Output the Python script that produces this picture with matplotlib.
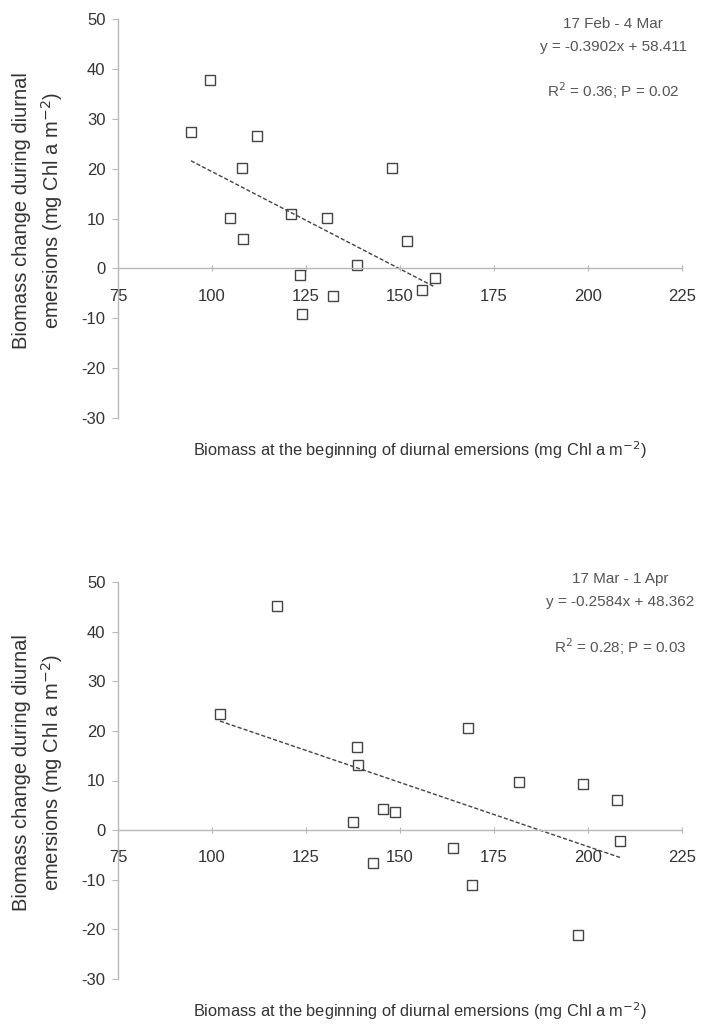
import matplotlib
matplotlib.use("Agg")
import matplotlib.pyplot as plt
import numpy as np

plt.rcParams['font.family'] = ['Liberation Sans', 'DejaVu Sans']
plt.rcParams['axes.unicode_minus'] = False

# Panel 1: 17 Feb - 4 Mar
x1 = [94.4, 99.5, 112.0, 108.0, 104.8, 108.2, 121.0, 130.6, 123.4, 132.2, 123.9,
      147.9, 151.9, 138.6, 159.3, 155.9]
y1 = [27.3, 37.7, 26.5, 20.1, 10.2, 5.8, 11.0, 10.2, -1.4, -5.6, -9.1,
      20.1, 5.4, 0.6, -2.0, -4.3]
slope1, intercept1 = -0.3902, 58.411
title1 = "17 Feb - 4 Mar"
eq1 = "y = -0.3902x + 58.411"
stat1 = "R$^2$ = 0.36; P = 0.02"

# Panel 2: 17 Mar - 1 Apr
x2 = [117.3, 102.1, 138.6, 138.8, 137.6, 148.7, 145.5, 168.1, 181.6, 198.7,
      207.7, 208.5, 164.1, 142.8, 169.1, 197.3]
y2 = [45.2, 23.4, 16.7, 13.1, 1.6, 3.6, 4.3, 20.6, 9.7, 9.3,
      6.0, -2.2, -3.6, -6.7, -11.1, -21.2]
slope2, intercept2 = -0.2584, 48.362
title2 = "17 Mar - 1 Apr"
eq2 = "y = -0.2584x + 48.362"
stat2 = "R$^2$ = 0.28; P = 0.03"

xticks = [75, 100, 125, 150, 175, 200, 225]
yticks = [-30, -20, -10, 0, 10, 20, 30, 40, 50]

ylabel = "Biomass change during diurnal\nemersions (mg Chl a m$^{-2}$)"
xlabel = "Biomass at the beginning of diurnal emersions (mg Chl a m$^{-2}$)"

fig = plt.figure(figsize=(7.03, 10.31), dpi=100)

axes_rects = [[118/703, 1-418/1031, 564/703, 399/1031],
              [118/703, 1-979/1031, 564/703, 397/1031]]
panels = [(x1, y1, slope1, intercept1, title1, eq1, stat1, (0.878, 0.987, 0.930, 0.820)),
          (x2, y2, slope2, intercept2, title2, eq2, stat2, (0.89, 1.008, 0.950, 0.836))]

axis_col = '#b8b8b8'
txt_col = '#333333'
ann_col = '#555555'
for rect, (xs, ys, sl, ic, tt, eq, st, pos) in zip(axes_rects, panels):
    ax = fig.add_axes(rect)
    ax.set_xlim(75, 225)
    ax.set_ylim(-30, 50)
    ax.spines['top'].set_visible(False)
    ax.spines['right'].set_visible(False)
    ax.spines['bottom'].set_position(('data', 0))
    for s in ('left', 'bottom'):
        ax.spines[s].set_color(axis_col)
        ax.spines[s].set_linewidth(1.0)
    ax.set_xticks(xticks)
    ax.set_yticks(yticks)
    ax.tick_params(axis='x', direction='inout', length=5, color=axis_col,
                   pad=12, labelsize=12, labelcolor=txt_col)
    ax.tick_params(axis='y', direction='out', length=4, color=axis_col,
                   pad=5, labelsize=12, labelcolor=txt_col)
    xs_arr = np.array(xs)
    xl = np.array([xs_arr.min(), xs_arr.max()])
    ax.plot(xl, sl * xl + ic, color='#444444', lw=1.0, linestyle=(0, (3, 1.5)))
    ax.plot(xs, ys, linestyle='none', marker='s', markersize=7,
            markerfacecolor='none', markeredgecolor='#444444', markeredgewidth=1.0,
            clip_on=False)
    px, py1, py2, py3 = pos
    ax.text(px, py1, tt, transform=ax.transAxes, ha='center', va='center',
            fontsize=11, color=ann_col)
    ax.text(px, py2, eq, transform=ax.transAxes, ha='center', va='center',
            fontsize=11, color=ann_col)
    ax.text(px, py3, st, transform=ax.transAxes, ha='center', va='center',
            fontsize=11, color=ann_col)
    ax.set_ylabel(ylabel, fontsize=14.5, color=txt_col, va='center',
                  linespacing=1.45)
    ax.yaxis.set_label_coords(-0.141, 0.519)
    ax.set_xlabel(xlabel, fontsize=11.8, color=txt_col)
    ax.xaxis.set_label_coords(0.535, -0.08)
    ax.xaxis.label.set_va('center')

fig.savefig("out.png", dpi=100)
